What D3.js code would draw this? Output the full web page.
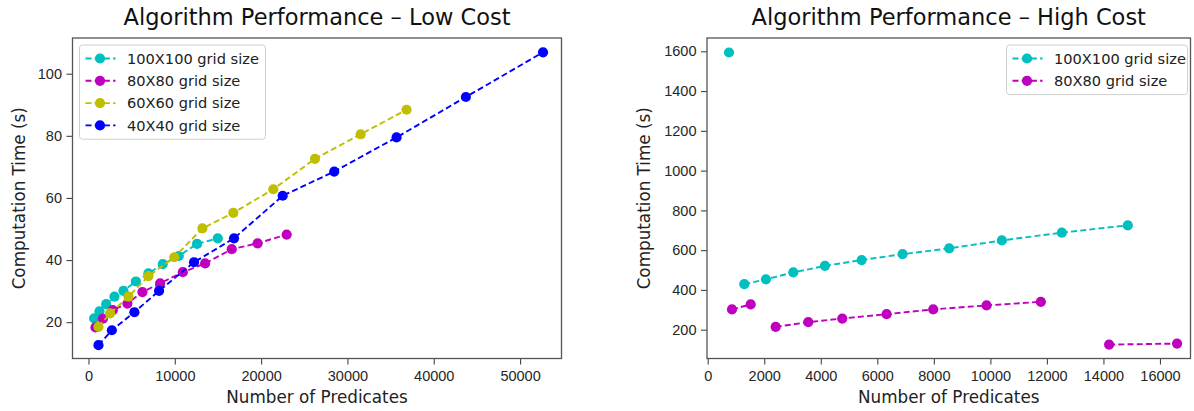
<!DOCTYPE html>
<html>
<head>
<meta charset="utf-8">
<script src="https://cdn.jsdelivr.net/npm/d3@7"></script>
<style>
  html, body { margin: 0; padding: 0; background: #fff; }
  svg { display: block; font-family: "DejaVu Sans", sans-serif; }
</style>
</head>
<body>
<svg id="chart" width="1194" height="411"></svg>
<script>
// ---- Low cost panel data ----
const lowLabels = ["100X100 grid size", "80X80 grid size", "60X60 grid size", "40X40 grid size"];
const lowColors = ["#00bfbf", "#bf00bf", "#bfbf00", "#0000ff"];

const low100x = [660, 1270, 2050, 3010, 4050, 5490, 6940, 8610, 10460, 12580, 14980];
const low100y = [21.2, 23.5, 25.8, 28.2, 30.1, 33.1, 35.7, 38.7, 41.3, 45.2, 47.0];

const low80x = [810, 1670, 2820, 4510, 6250, 8300, 10930, 13510, 16600, 19600, 22960];
const low80y = [18.3, 21.1, 23.9, 26.0, 29.7, 32.5, 36.1, 38.9, 43.5, 45.4, 48.2];

const low60x = [1160, 2510, 4630, 6940, 9950, 13200, 16780, 21410, 26240, 31530, 36850];
const low60y = [18.5, 22.8, 28.2, 34.8, 40.9, 50.2, 55.2, 62.8, 72.6, 80.5, 88.4];

const low40x = [1160, 2710, 5320, 8180, 12230, 16860, 22500, 28470, 35690, 43720, 52660];
const low40y = [12.6, 17.4, 23.2, 30.1, 39.3, 47.0, 60.7, 68.5, 79.5, 92.5, 106.9];

const lowXTicks = [0, 10000, 20000, 30000, 40000, 50000];
const lowYTicks = [20, 40, 60, 80, 100];

// ---- High cost panel data (null marks a break in the line) ----
const highLabels = ["100X100 grid size", "80X80 grid size"];
const highColors = ["#00bfbf", "#bf00bf"];

const high100x = [753, null, 1294, 2061, 3028, 4148, 5445, 6895, 8543, 10407, 12528, 14862];
const high100y = [1594, null, 429, 453, 488, 521, 550, 580, 609, 649, 688, 725];

const high80x = [859, 1520, null, 2404, 3557, 4760, 6330, 7978, 9865, 11786, null, 14201, 16605];
const high80y = [302, 327, null, 214, 238, 256, 278, 302, 322, 340, null, 125, 130];

const highXTicks = [0, 2000, 4000, 6000, 8000, 10000, 12000, 14000, 16000];
const highYTicks = [200, 400, 600, 800, 1000, 1200, 1400, 1600];

function zip(xs, ys) {
  return xs.map((x, i) => (x === null || ys[i] === null) ? null : { x: x, y: ys[i] });
}

const svg = d3.select("#chart");

function panel(cfg) {
  const { left, right, top, bottom, xDomain, yDomain, xTicks, yTicks, series, title, legend } = cfg;
  const x = d3.scaleLinear().domain(xDomain).range([left, right]);
  const y = d3.scaleLinear().domain(yDomain).range([bottom, top]);
  const g = svg.append("g");

  // axes
  const xa = g.append("g").attr("transform", `translate(0,${bottom})`)
    .call(d3.axisBottom(x).tickValues(xTicks).tickFormat(d3.format("d")).tickSize(6).tickPadding(6.5));
  const ya = g.append("g").attr("transform", `translate(${left},0)`)
    .call(d3.axisLeft(y).tickValues(yTicks).tickFormat(d3.format("d")).tickSize(6).tickPadding(4.5));
  [xa, ya].forEach(a => {
    a.select(".domain").remove();
    a.selectAll(".tick line").attr("stroke", "#444").attr("stroke-width", 1.1);
    a.selectAll(".tick text").attr("fill", "#262626").style("font-size", "14.5px");
  });

  // frame
  g.append("rect").attr("x", left).attr("y", top)
    .attr("width", right - left).attr("height", bottom - top)
    .attr("fill", "none").attr("stroke", "#555").attr("stroke-width", 1.3);

  // series
  const line = d3.line().defined(d => d !== null).x(d => x(d.x)).y(d => y(d.y));
  series.forEach(s => {
    g.append("path").datum(s.data)
      .attr("d", line).attr("fill", "none")
      .attr("stroke", s.color).attr("stroke-width", 1.9)
      .attr("stroke-dasharray", "6,3.2");
    g.selectAll(null).data(s.data.filter(d => d !== null)).enter()
      .append("circle")
      .attr("cx", d => x(d.x)).attr("cy", d => y(d.y)).attr("r", 5.1)
      .attr("fill", s.color);
  });

  // titles and axis labels
  g.append("text").attr("x", (left + right) / 2).attr("y", 25)
    .attr("text-anchor", "middle").attr("fill", "#111")
    .style("font-size", "22.5px").text(title);
  g.append("text").attr("x", (left + right) / 2).attr("y", 403)
    .attr("text-anchor", "middle").attr("fill", "#222")
    .style("font-size", "16.8px").text("Number of Predicates");
  g.append("text")
    .attr("transform", `translate(${cfg.yLabelX},${(top + bottom) / 2}) rotate(-90)`)
    .attr("text-anchor", "middle").attr("fill", "#222")
    .style("font-size", "16.8px").text("Computation Time (s)");

  // legend
  const lg = g.append("g");
  lg.append("rect").attr("x", legend.x).attr("y", legend.y)
    .attr("width", legend.w).attr("height", 22.3 * series.length + 5)
    .attr("rx", 3).attr("fill", "#fff").attr("fill-opacity", 0.85)
    .attr("stroke", "#d0d0d0").attr("stroke-width", 1);
  series.forEach((s, i) => {
    const cy = legend.y + 13.5 + i * 22.3;
    lg.append("line").attr("x1", legend.x + 6).attr("x2", legend.x + 36)
      .attr("y1", cy).attr("y2", cy)
      .attr("stroke", s.color).attr("stroke-width", 1.9).attr("stroke-dasharray", "6,3.2");
    lg.append("circle").attr("cx", legend.x + 20.5).attr("cy", cy).attr("r", 5.1).attr("fill", s.color);
    lg.append("text").attr("x", legend.x + 47.5).attr("y", cy + 5.3)
      .attr("fill", "#222").style("font-size", "14.6px").text(s.label);
  });
}

panel({
  left: 72.5, right: 561.5, top: 38, bottom: 358.5,
  xDomain: [-1850, 54800], yDomain: [8.3, 111.5],
  xTicks: lowXTicks, yTicks: lowYTicks,
  title: "Algorithm Performance \u2013 Low Cost",
  yLabelX: 25,
  legend: { x: 79.5, y: 45, w: 186 },
  series: [
    { label: lowLabels[0], color: lowColors[0], data: zip(low100x, low100y) },
    { label: lowLabels[1], color: lowColors[1], data: zip(low80x, low80y) },
    { label: lowLabels[2], color: lowColors[2], data: zip(low60x, low60y) },
    { label: lowLabels[3], color: lowColors[3], data: zip(low40x, low40y) }
  ]
});

panel({
  left: 707, right: 1190.5, top: 38, bottom: 358.5,
  xDomain: [-25, 17080], yDomain: [55, 1667],
  xTicks: highXTicks, yTicks: highYTicks,
  title: "Algorithm Performance \u2013 High Cost",
  yLabelX: 650,
  legend: { x: 1006.5, y: 45, w: 181 },
  series: [
    { label: highLabels[0], color: highColors[0], data: zip(high100x, high100y) },
    { label: highLabels[1], color: highColors[1], data: zip(high80x, high80y) }
  ]
});
</script>
</body>
</html>
